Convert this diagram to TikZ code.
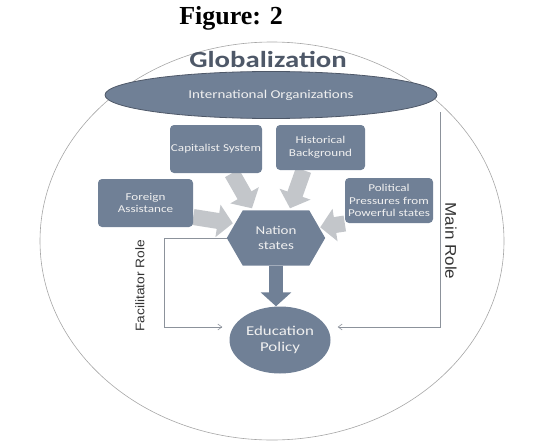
\documentclass[tikz,border=0pt]{standalone}
\usepackage{fontspec}
\setmainfont{Carlito}[FakeStretch=1.25]
\newfontfamily\titlefont{Liberation Serif}
\newfontfamily\rolefont{Liberation Sans}[FakeStretch=1.1]
\usepackage{xcolor}
\usetikzlibrary{calc}
\usetikzlibrary{positioning}
\usetikzlibrary{arrows.meta}
\usetikzlibrary{shapes.geometric, backgrounds}
\definecolor{slate}{HTML}{708096}
\definecolor{slatedark}{HTML}{4E5868}
\definecolor{feedgray}{HTML}{C3C6CA}
\definecolor{linegray}{HTML}{8C929B}
\def\boxfont{\fontsize{10.5}{12.5}\selectfont}
\tikzset{
factor/.style={draw=none,fill=slate,rounded corners=4pt,text=white!94!black,
	align=center,font=\boxfont,inner sep=0pt},
feed/.style={draw=feedgray,line width=16pt,-{Triangle[width=32pt,length=15pt]}},
bigarrow/.style={draw=slate,line width=14pt,-{Triangle[width=30pt,length=14pt]}},
role/.style={draw=linegray,line width=0.6pt,-{Straight Barb[length=4pt,width=6pt]}},
rolelabel/.style={text=black!80},
}

\begin{document}
\begin{tikzpicture}[x=1pt,y=1pt]
\useasboundingbox (0,0) rectangle (534,440);
%Place the nodes
\node[draw=black!35,line width=0.6pt,ellipse,minimum width=464pt,minimum height=398pt] (glob) at (272,199) {};
\node[font=\titlefont\bfseries\fontsize{26}{28}\selectfont] (fig) at (231,422) {Figure: 2};
\node[text=slatedark,font=\bfseries\fontsize{23}{25}\selectfont] (gtitle) at (268,381) {Globalization};
\node[ellipse,fill=slate,draw=slatedark,line width=0.8pt,minimum width=332pt,minimum height=47pt,
	text=white!94!black,font=\fontsize{12}{14}\selectfont,inner sep=0pt] (int) at (271,345) {International Organizations};

\node[factor,minimum width=92pt,minimum height=48pt] (cap) at (216,291) {Capitalist System};
\node[factor,minimum width=89pt,minimum height=45pt] (his) at (320.5,292.5) {Historical\\Background};
\node[factor,minimum width=95pt,minimum height=48pt] (for) at (145.5,237) {Foreign\\Assistance};
\node[factor,minimum width=88pt,minimum height=45pt] (pol) at (389,239.5) {Political\\Pressures from\\Powerful states};

\node[minimum width=98pt,minimum height=55pt,inner sep=0pt,align=center,
	text=white!94!black,font=\fontsize{12}{15}\selectfont] (nat) at (276,202) {Nation\\states};
\begin{scope}[on background layer]
\fill[slate] (nat.west) -- ([xshift=16pt]nat.north west) -- ([xshift=-16pt]nat.north east)
	-- (nat.east) -- ([xshift=-16pt]nat.south east) -- ([xshift=16pt]nat.south west) -- cycle;
\end{scope}
\node[ellipse,fill=slate,minimum width=101pt,minimum height=67pt,inner sep=0pt,align=center,
	text=white!94!black,font=\fontsize{13.5}{16}\selectfont] (edu) at (280,100) {Education\\Policy};

%Feeding arrows
\begin{scope}[on background layer]
\draw[feed] ([xshift=16pt]cap.south) -- ([xshift=-24pt,yshift=2pt]nat.north);
\draw[feed] ([xshift=-17pt]his.south) -- ([xshift=14pt,yshift=2pt]nat.north);
\draw[feed] ([yshift=-14pt]for.east) -- ([xshift=6pt,yshift=-13pt]nat.north west);
\draw[feed] ([yshift=-23pt]pol.west) -- ([xshift=-5pt,yshift=-17pt]nat.north east);
\end{scope}
\draw[bigarrow] (nat.south) -- (nat.south |- edu.north);

%Roles
\draw[role] (nat.west) -- ++(-63pt,0) |- ([xshift=-7pt,yshift=13pt]edu.west);
\draw[role] ([xshift=3pt,yshift=-17pt]int.east) |- ([xshift=7pt,yshift=13pt]edu.east);
\node[rolelabel,rotate=90,font=\rolefont\fontsize{12.5}{14}\selectfont] (fac) at (140,154) {Facilitator Role};
\node[rolelabel,rotate=-90,font=\rolefont\fontsize{15.5}{17}\selectfont] (main) at (451,199) {Main Role};
\end{tikzpicture}
\end{document}
